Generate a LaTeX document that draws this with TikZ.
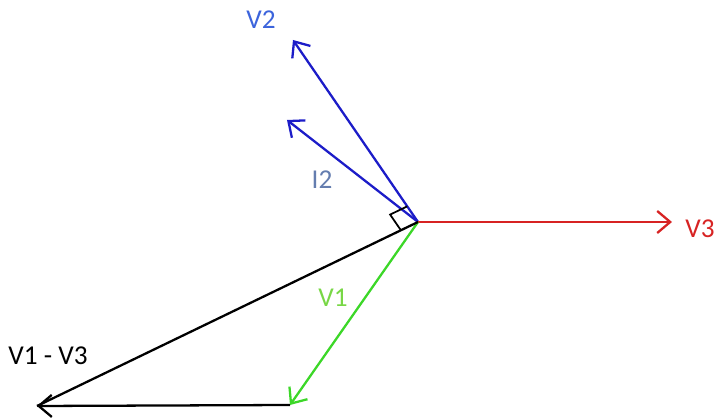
\documentclass[tikz,border=0pt]{standalone}
\usepackage{fontspec}
\setmainfont{Carlito}
\usetikzlibrary{arrows.meta,calc}

\begin{document}
\begin{tikzpicture}
\tikzset{vec/.style = {-{Straight Barb[length=2.6mm,width=4.4mm]},line width=1.3pt}}
\tikzset{lbl/.style = {font=\fontsize{15.5}{18}\selectfont,inner sep=0pt}}
\definecolor{vtwo}{RGB}{28,28,200}
\definecolor{vtwotext}{RGB}{60,100,220}
\definecolor{itwotext}{RGB}{100,125,175}
\definecolor{vthree}{RGB}{215,35,35}
\definecolor{vone}{RGB}{60,215,40}
\definecolor{vonetext}{RGB}{120,215,70}
\useasboundingbox (-8.36,-3.94) rectangle (5.96,4.44);
% points
\coordinate (o) at (0,0);
\coordinate (v3) at (5.08,0);
\coordinate (v2) at (-2.5,3.64);
\coordinate (i2) at (-2.62,2.04);
\coordinate (v1) at (-2.56,-3.66);
\coordinate (d) at (-7.62,-3.68);
% labels
\node[lbl,text=vtwotext] (lv2) at (-3.14,4.04) {V2};
\node[lbl,text=itwotext] (li2) at (-1.92,0.84) {I2};
\node[lbl,text=vthree] (lv3) at (5.64,-0.14) {V3};
\node[lbl,text=vonetext] (lv1) at (-1.7,-1.52) {V1};
\node[lbl] (ld) at (-7.4,-2.68) {V1 - V3};
% vectors
\draw[vec,vtwo] (o) -- (v2);
\draw[vec,vtwo] (o) -- (i2);
\draw[vec,vthree] (o) -- (v3);
\draw[vec,vone] (o) -- (v1);
\draw[vec] (v1) -- (d);
\draw[line width=1.3pt] (o) -- (d);
% right angle
\coordinate (ra1) at ($(o)!0.38cm!(d)$);
\coordinate (ra3) at ($(o)!0.38cm!(v2)$);
\draw[line width=1pt] (ra1) -- ($(ra1)+(ra3)$) -- (ra3);

\end{tikzpicture}
\end{document}
